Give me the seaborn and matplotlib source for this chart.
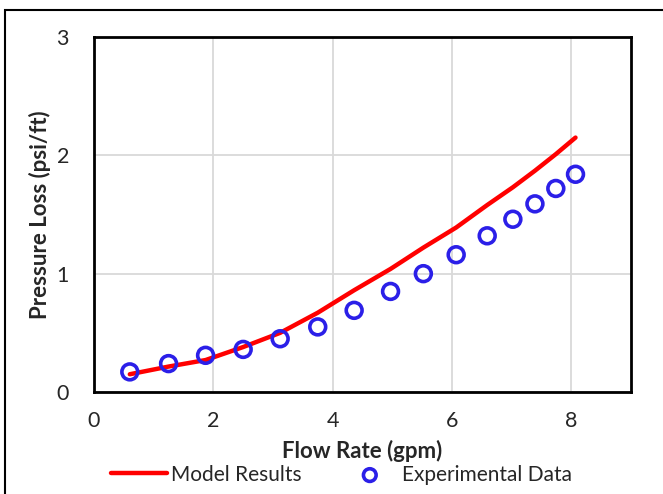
import numpy as np
import pandas as pd
import matplotlib
matplotlib.use("Agg")
import matplotlib.pyplot as plt
import seaborn as sns
from matplotlib.patches import Rectangle

# Data
flow_rate = [0.60, 1.25, 1.87, 2.50, 3.12, 3.75, 4.36, 4.97, 5.52, 6.07, 6.59, 7.02, 7.39, 7.74, 8.07]
exp_loss = [0.17, 0.24, 0.31, 0.36, 0.45, 0.55, 0.69, 0.85, 1.00, 1.16, 1.32, 1.46, 1.59, 1.72, 1.84]
model_loss = [0.15, 0.215, 0.27, 0.38, 0.50, 0.67, 0.86, 1.04, 1.22, 1.39, 1.58, 1.73, 1.87, 2.01, 2.15]
x_ticks = [0, 2, 4, 6, 8]
y_ticks = [0, 1, 2, 3]

df = pd.DataFrame({"flow": flow_rate, "exp": exp_loss, "model": model_loss})

sns.set_theme(style="white")
plt.rcParams["font.family"] = ["Lato", "DejaVu Sans"]

fig = plt.figure(figsize=(6.63, 4.94), dpi=100)
ax = fig.add_axes([94/663, 1-392/494, (631-94)/663, (392-37)/494])

sns.lineplot(data=df, x="flow", y="model", ax=ax, color="#FF0000", linewidth=3.2,
             label="Model Results", solid_capstyle="round", solid_joinstyle="round", zorder=3)
sns.scatterplot(data=df, x="flow", y="exp", ax=ax, marker="o", s=130,
                facecolor="none", edgecolor="#2B1FE8", linewidth=2.6,
                label="Experimental Data", zorder=4)

ax.set_xlim(0, 9)
ax.set_ylim(0, 3)
ax.set_xticks(x_ticks)
ax.set_yticks(y_ticks)
ax.set_xticklabels([str(t) for t in x_ticks], fontsize=15.5)
ax.set_yticklabels([str(t) for t in y_ticks], fontsize=15.5)
ax.tick_params(axis="both", length=0)
ax.tick_params(axis="x", pad=14)
ax.tick_params(axis="y", pad=18)
ax.grid(True, color="#D9D9D9", linewidth=1.3)
ax.set_axisbelow(True)
for sp in ax.spines.values():
    sp.set_visible(True)
    sp.set_color("black")
    sp.set_linewidth(2)

ax.set_xlabel("Flow Rate (gpm)", fontsize=16, fontweight="bold", labelpad=6)
ax.set_ylabel("Pressure Loss (psi/ft)", fontsize=16, fontweight="bold", labelpad=4)

handles, labels = ax.get_legend_handles_labels()
leg = ax.legend(handles, labels, loc="upper center", bbox_to_anchor=(0.461, -0.175),
                ncol=2, frameon=False, fontsize=15, handlelength=2.7,
                handletextpad=0.2, columnspacing=1.9, markerscale=0.8,
                borderpad=0.0)

fig.patches.append(Rectangle((5/663, -0.1), 1.2, 1 - 10/494 + 0.1,
                             transform=fig.transFigure, fill=False,
                             edgecolor="black", linewidth=1.5))

fig.savefig("out.png", dpi=100)
